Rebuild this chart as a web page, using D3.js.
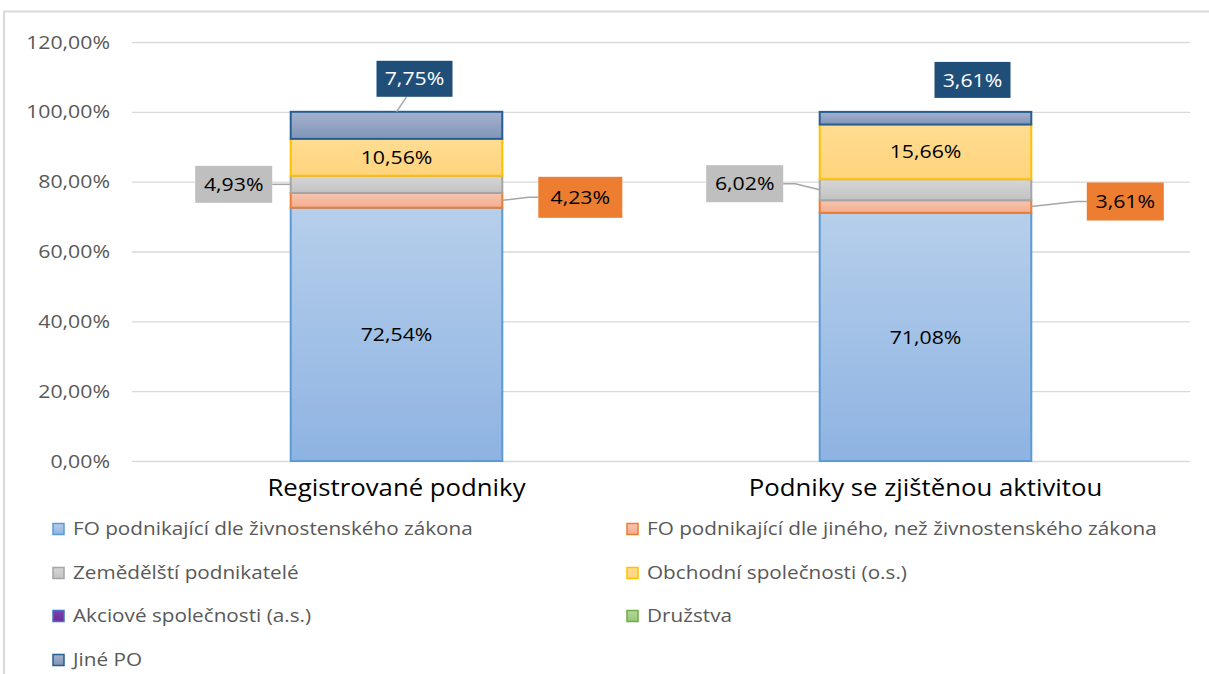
<!DOCTYPE html>
<html>
<head>
<meta charset="utf-8">
<script src="https://cdn.jsdelivr.net/npm/d3@7"></script>
<style>
  html, body { margin: 0; padding: 0; background: #fff; }
  svg { display: block; font-family: "Open Sans", Lato, sans-serif; }
</style>
</head>
<body>
<div id="chart"></div>
<script>
// categories (x axis) and series in stacking order
const categories = ["Registrované podniky", "Podniky se zjištěnou aktivitou"];
const seriesNames = [
  "FO podnikající dle živnostenského zákona",
  "FO podnikající dle jiného, než živnostenského zákona",
  "Zemědělští podnikatelé",
  "Obchodní společnosti (o.s.)",
  "Akciové společnosti (a.s.)",
  "Družstva",
  "Jiné PO"
];
// percent values per series, one per category
const foZivn = [72.54, 71.08];
const foJine = [4.23, 3.61];
const zemed = [4.93, 6.02];
const obchSpol = [10.56, 15.66];
const akcSpol = [0, 0];
const druzstva = [0, 0];
const jinePO = [7.75, 3.61];
const yTicks = [0, 20, 40, 60, 80, 100, 120];

const values = [foZivn, foJine, zemed, obchSpol, akcSpol, druzstva, jinePO];

// fill gradient (top, bottom) and outline per series
const palette = [
  { top: "#b6cfeb", bottom: "#8eb3e2", stroke: "#5b9bd5" },
  { top: "#f7c5b0", bottom: "#f3ad90", stroke: "#ed7d31" },
  { top: "#d6d6d6", bottom: "#c3c3c3", stroke: "#a5a5a5" },
  { top: "#ffdd93", bottom: "#ffd47c", stroke: "#ffc000" },
  { top: "#8040b0", bottom: "#6a2c98", stroke: "#4472c4" },
  { top: "#b5d89c", bottom: "#98c779", stroke: "#70ad47" },
  { top: "#a4b2cd", bottom: "#8195b8", stroke: "#255e91" }
];

// how each value label is drawn: inside the bar, or as a callout box
const labelMode = ["inside", "right", "left", "inside", "none", "none", "above"];
const calloutFill = { left: "#bfbfbf", right: "#ed7d31", above: "#1f4e79" };
const calloutText = { left: "#000", right: "#000", above: "#fff" };
// callout box centre offsets per category: [dx, dy, width, height, leader]
const calloutPos = {
  left:  [[-57, 0, 77, 37, true], [-75, -6, 77, 37, true]],
  right: [[78, -3, 84, 41, true], [94, -5, 77, 38, true]],
  above: [[18, -33, 76, 36, true], [47, -32, 76, 36, false]]
};

const W = 1209, H = 674;
const margin = { top: 42, right: 19, bottom: 213, left: 132 };
const FS = { tick: 19, value: 19, cat: 23, legend: 18.5 };
const SX = 1.12; // the source text is drawn slightly wide

const svg = d3.select("#chart").append("svg")
  .attr("width", W).attr("height", H).attr("viewBox", `0 0 ${W} ${H}`);

// text placed at (tx, ty) and widened by SX around its anchor
function label(parent, tx, ty, str, size, fill, anchor) {
  return parent.append("text")
    .attr("transform", `translate(${tx},${ty}) scale(${SX},1)`)
    .attr("dy", "0.35em").attr("text-anchor", anchor || "middle")
    .attr("font-size", size).attr("fill", fill).text(str);
}

// outer chart frame (only top and left edges are in view)
svg.append("path").attr("d", `M4,${H} V11.5 H${W}`)
  .attr("fill", "none").attr("stroke", "#d9d9d9").attr("stroke-width", 2);

const defs = svg.append("defs");
palette.forEach((p, i) => {
  const g = defs.append("linearGradient").attr("id", "grad" + i)
    .attr("x1", 0).attr("y1", 0).attr("x2", 0).attr("y2", 1);
  g.append("stop").attr("offset", "0%").attr("stop-color", p.top);
  g.append("stop").attr("offset", "100%").attr("stop-color", p.bottom);
});

const x = d3.scaleBand().domain(categories)
  .range([margin.left, W - margin.right]).paddingInner(0.6).paddingOuter(0.3);
const y = d3.scaleLinear().domain([0, 120]).range([461, margin.top]);

const fmt = v => d3.format(".2f")(v).replace(".", ",") + "%";

// grid + y labels
svg.append("g")
  .attr("transform", `translate(${margin.left},0)`)
  .call(d3.axisLeft(y).tickValues(yTicks)
    .tickSize(-(W - margin.right - margin.left)).tickPadding(22)
    .tickFormat(fmt))
  .call(g => g.select(".domain").remove())
  .call(g => g.selectAll(".tick line").attr("stroke", "#d9d9d9").attr("stroke-width", 1.3))
  .call(g => g.selectAll(".tick text").attr("fill", "#595959").attr("font-size", FS.tick)
    .attr("font-family", "'Open Sans', sans-serif")
    .attr("x", -22 / SX).attr("transform", `scale(${SX},1)`));

// stacked bars
const stack = d3.stack().keys(d3.range(seriesNames.length))
  .value((d, k) => values[k][d]);
const layers = stack(d3.range(categories.length));

layers.forEach((layer, k) => {
  layer.forEach((seg, ci) => {
    if (values[k][ci] <= 0) return;
    svg.append("rect")
      .attr("x", x(categories[ci])).attr("width", x.bandwidth())
      .attr("y", y(seg[1])).attr("height", y(seg[0]) - y(seg[1]))
      .attr("fill", `url(#grad${k})`)
      .attr("stroke", palette[k].stroke).attr("stroke-width", 2);
  });
});

// value labels
layers.forEach((layer, k) => {
  const mode = labelMode[k];
  layer.forEach((seg, ci) => {
    const v = values[k][ci];
    if (mode === "none" || v <= 0) return;
    const x0 = x(categories[ci]), x1 = x0 + x.bandwidth();
    const midY = (y(seg[0]) + y(seg[1])) / 2;
    if (mode === "inside") {
      label(svg, (x0 + x1) / 2, midY, fmt(v), FS.value, "#000");
      return;
    }
    const [dx, dy, bw, bh, leader] = calloutPos[mode][ci];
    let ax, ay, cx, cy;
    if (mode === "left") { ax = x0; ay = midY; cx = x0 + dx; cy = midY + dy; }
    else if (mode === "right") { ax = x1; ay = midY; cx = x1 + dx; cy = midY + dy; }
    else { ax = (x0 + x1) / 2; ay = y(seg[1]); cx = ax + dx; cy = ay + dy; }

    if (leader) {
      let pts;
      if (mode === "left") pts = [[ax, ay], [cx + bw / 2 + 12, cy], [cx + bw / 2, cy]];
      else if (mode === "right") pts = [[ax, ay], [cx - bw / 2 - 10, cy], [cx - bw / 2, cy]];
      else pts = [[ax, ay], [ax + 10, cy + bh / 2]];
      svg.append("path").attr("d", d3.line()(pts))
        .attr("fill", "none").attr("stroke", "#a6a6a6").attr("stroke-width", 1.5);
    }
    svg.append("rect").attr("x", cx - bw / 2).attr("y", cy - bh / 2)
      .attr("width", bw).attr("height", bh).attr("fill", calloutFill[mode]);
    label(svg, cx, cy, fmt(v), FS.value, calloutText[mode]);
  });
});

// category labels
categories.forEach(c => {
  label(svg, x(c) + x.bandwidth() / 2, 488, c, FS.cat, "#000");
});

// legend: two columns, four rows
const legendCols = [53, 627];
const legendRowY = [529, 573, 616, 660];
const legend = svg.append("g");
seriesNames.forEach((name, i) => {
  const lx = legendCols[i % 2], ly = legendRowY[Math.floor(i / 2)];
  legend.append("rect").attr("x", lx).attr("y", ly - 5.5).attr("width", 11).attr("height", 11)
    .attr("fill", `url(#grad${i})`).attr("stroke", palette[i].stroke).attr("stroke-width", 1.5);
  label(legend, lx + 20, ly, name, FS.legend, "#595959", "start");
});
</script>
</body>
</html>
